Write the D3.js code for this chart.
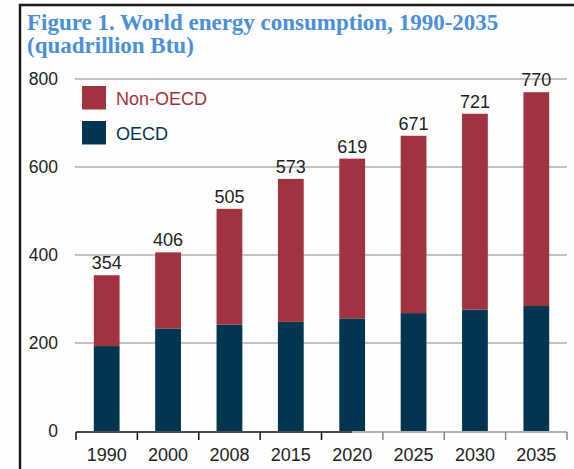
<!DOCTYPE html>
<html>
<head>
<meta charset="utf-8">
<script src="https://cdn.jsdelivr.net/npm/d3@7"></script>
<style>
  body { margin: 0; background: #fff; }
  svg { display: block; }
</style>
</head>
<body>
<script>
var width = 574,
    height = 469;

// data (quadrillion Btu)
var years = ["1990", "2000", "2008", "2015", "2020", "2025", "2030", "2035"];
var oecd = [193, 233, 242, 248, 256, 268, 276, 284];
var totals = [354, 406, 505, 573, 619, 671, 721, 770];
var yTicks = [0, 200, 400, 600, 800];
var seriesNames = ["Non-OECD", "OECD"];
var seriesColors = ["#a1323f", "#023650"];

var rows = years.map(function(y, i) {
  return { year: y, OECD: oecd[i], "Non-OECD": totals[i] - oecd[i], total: totals[i] };
});

var svg = d3.select("body").append("svg")
    .attr("width", width)
    .attr("height", height);

svg.append("rect").attr("width", width).attr("height", height).attr("fill", "#fefefe");

// frame (top and left only, as in the source)
svg.append("line").attr("x1", 19).attr("x2", width).attr("y1", 5).attr("y2", 5)
    .attr("stroke", "#1a1a1a").attr("stroke-width", 2.5);
svg.append("line").attr("x1", 20).attr("x2", 20).attr("y1", 4).attr("y2", height)
    .attr("stroke", "#1a1a1a").attr("stroke-width", 2.5);

// title
var title = svg.append("text")
    .attr("font-family", "'Liberation Serif', 'Times New Roman', serif")
    .attr("font-weight", "bold")
    .attr("font-size", 23)
    .attr("fill", "#4a8fd7");
title.append("tspan").attr("x", 27).attr("y", 30).text("Figure 1. World energy consumption, 1990-2035");
title.append("tspan").attr("x", 27).attr("y", 53).text("(quadrillion Btu)");

var x0 = 76, x1 = 567;

var x = d3.scaleBand()
    .domain(years)
    .range([x0, x1])
    .paddingInner(0.58)
    .paddingOuter(0.29);

var y = d3.scaleLinear()
    .domain([0, 800])
    .range([431, 79]);

// gridlines
svg.append("g").selectAll("line")
    .data(yTicks.filter(function(d) { return d > 0; }))
  .enter().append("line")
    .attr("x1", x0 - 1).attr("x2", x1)
    .attr("y1", function(d) { return y(d); })
    .attr("y2", function(d) { return y(d); })
    .attr("stroke", "#c2c2c2")
    .attr("stroke-width", 2);

// y labels
svg.append("g").selectAll("text")
    .data(yTicks)
  .enter().append("text")
    .attr("x", 58)
    .attr("y", function(d) { return y(d); })
    .attr("dy", "0.36em")
    .attr("text-anchor", "end")
    .attr("font-family", "'Liberation Sans', Arial, sans-serif")
    .attr("font-size", 17.5)
    .attr("fill", "#222")
    .text(function(d) { return d; });

// stacked bars
var stack = d3.stack().keys(["OECD", "Non-OECD"]);
var layers = stack(rows);
var color = d3.scaleOrdinal().domain(seriesNames).range(seriesColors);

svg.append("g").selectAll("g")
    .data(layers)
  .enter().append("g")
    .attr("fill", function(d) { return color(d.key); })
  .selectAll("rect")
    .data(function(d) { return d; })
  .enter().append("rect")
    .attr("x", function(d) { return x(d.data.year); })
    .attr("width", x.bandwidth())
    .attr("y", function(d) { return y(d[1]); })
    .attr("height", function(d) { return y(d[0]) - y(d[1]); });

// total labels
svg.append("g").selectAll("text")
    .data(rows)
  .enter().append("text")
    .attr("x", function(d) { return x(d.year) + x.bandwidth() / 2; })
    .attr("y", function(d) { return y(d.total) - 6; })
    .attr("text-anchor", "middle")
    .attr("font-family", "'Liberation Sans', Arial, sans-serif")
    .attr("font-size", 18)
    .attr("fill", "#222")
    .text(function(d) { return d.total; });

// x axis: category boundaries as ticks
var step = x.step();
var bounds = d3.range(years.length + 1).map(function(i) { return x0 + i * step; });

var axis = svg.append("g");
axis.append("line")
    .attr("x1", x0).attr("x2", 352).attr("y1", 432).attr("y2", 432)
    .attr("stroke", "#111").attr("stroke-width", 1.5);
axis.append("line")
    .attr("x1", 352).attr("x2", x1).attr("y1", 432).attr("y2", 432)
    .attr("stroke", "#999").attr("stroke-width", 1.5);
axis.selectAll("line.tick")
    .data(bounds)
  .enter().append("line")
    .attr("class", "tick")
    .attr("x1", function(d) { return d; })
    .attr("x2", function(d) { return d; })
    .attr("y1", 432).attr("y2", 440)
    .attr("stroke", function(d) { return d < 352 ? "#111" : "#888"; })
    .attr("stroke-width", 1.5);

axis.selectAll("text")
    .data(years)
  .enter().append("text")
    .attr("x", function(d) { return x(d) + x.bandwidth() / 2; })
    .attr("y", 461)
    .attr("text-anchor", "middle")
    .attr("font-family", "'Liberation Sans', Arial, sans-serif")
    .attr("font-size", 18)
    .attr("fill", "#222")
    .text(function(d) { return d; });

// legend
var legend = svg.append("g").selectAll("g")
    .data(seriesNames)
  .enter().append("g")
    .attr("transform", function(d, i) { return "translate(82," + (86 + i * 35) + ")"; });

legend.append("rect")
    .attr("width", 24).attr("height", 23.5)
    .attr("fill", function(d) { return color(d); });

legend.append("text")
    .attr("x", 34)
    .attr("y", 19)
    .attr("font-family", "'Liberation Sans', Arial, sans-serif")
    .attr("font-size", 18)
    .attr("fill", function(d) { return color(d); })
    .text(function(d) { return d; });
</script>
</body>
</html>
